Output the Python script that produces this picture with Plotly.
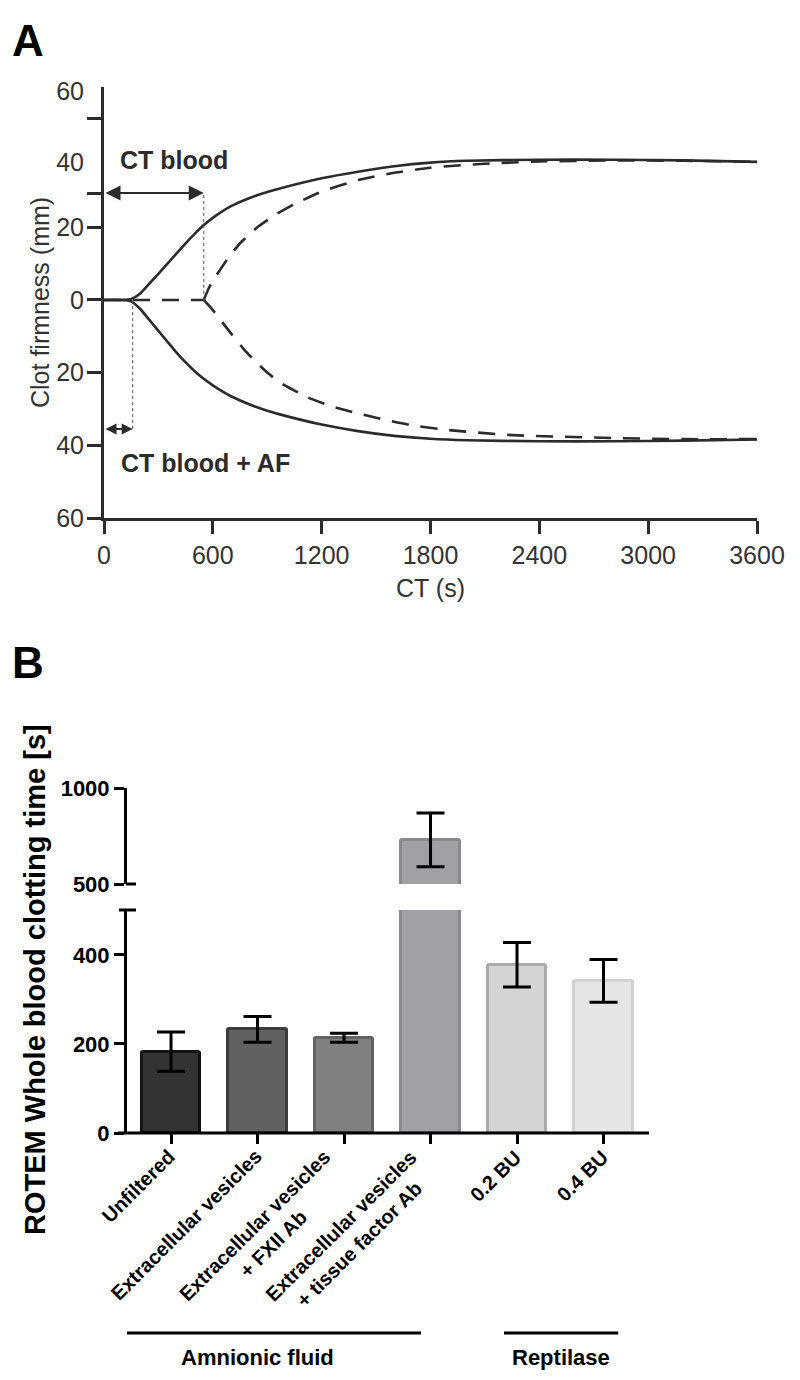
import plotly.graph_objects as go

W, H = 800, 1380

# ---------------- Panel A data ----------------
t_solid = [0, 100, 150, 200, 250, 300, 350, 400, 450, 500, 550, 600, 650, 700, 800, 900, 1000,
           1200, 1400, 1600, 1800, 2000, 2400, 2800, 3200, 3600]
upper_solid = [0, 0, 0.3, 1.8, 4.5, 7.2, 10, 12.8, 15.6, 18.2, 20.6, 22.6, 24.3, 25.8, 28.0, 29.7, 31.1,
               33.5, 35.3, 36.8, 37.8, 38.3, 38.6, 38.6, 38.4, 38.0]
lower_solid = [0, 0, -0.4, -2.5, -5.5, -8.5, -11.5, -14.5, -17.2, -19.6, -21.7, -23.5, -25.1, -26.5, -28.7, -30.5, -31.9,
               -34.3, -36.1, -37.4, -38.2, -38.6, -38.9, -38.9, -38.7, -38.4]

t_flat = [0, 550]
flat_dashed = [0, 0]
t_dash_up = [550, 580, 620, 680, 750, 850, 950, 1050, 1200, 1400, 1600, 1800, 2100, 2400, 2800, 3200, 3600]
upper_dashed = [0, 3.5, 6.8, 11.2, 15.6, 20.2, 23.6, 26.4, 29.8, 33, 35, 36.4, 37.5, 38.1, 38.4, 38.3, 38.0]
t_dash_low = [550, 600, 650, 700, 770, 840, 910, 980, 1123, 1250, 1406, 1550, 1688, 1900, 2254, 2818, 3200, 3600]
lower_dashed = [0, -2.8, -6, -9.2, -13.5, -17.2, -20.4, -23, -26.8, -29.2, -31.3, -33, -34.4, -35.8, -37.2, -38, -38.3, -38.3]

CT_BLOOD = 550
CT_BLOOD_AF = 158
ARROW_Y_BLOOD = 29.4
ARROW_Y_AF = -35.5

a_xticks = [0, 600, 1200, 1800, 2400, 3000, 3600]
a_ytick_marks = [50, 29.4, 20, 0, -20, -40, -60]
a_ylabel_pos = [57.5, 37.8, 20, 0, -20, -40, -60]
a_ylabel_text = ["60", "40", "20", "0", "20", "40", "60"]

# ---------------- Panel B data ----------------
categories = ["Unfiltered", "Extracellular vesicles", "Extracellular vesicles<br>+ FXII Ab",
              "Extracellular vesicles<br>+ tissue factor Ab", "0.2 BU", "0.4 BU"]
clot_time = [183, 233, 214, 730, 378, 342]
clot_err = [44, 29, 10, 140, 50, 48]
bar_fill = ["#333333", "#616161", "#808080", "#a1a0a5", "#d4d4d4", "#e6e6e6"]
bar_edge = ["#141414", "#3c3c3c", "#636363", "#8a8a8e", "#ababab", "#d2d2d2"]
groups = [("Amnionic fluid", -0.9, 2.89), ("Reptilase", 3.85, 5.17)]
b_low_ticks = [0, 200, 400]
b_high_ticks = [500, 1000]
BREAK_LOW, BREAK_HIGH, B_TOP = 501, 500, 1000


def px(x):
    return x / W


def py(y):
    return 1 - y / H


FONT = "Arial, Liberation Sans, sans-serif"
LC = "#2b2b2b"
TC = "#333333"

fig = go.Figure()

# Panel A traces
fig.add_trace(go.Scatter(x=t_flat, y=flat_dashed, mode="lines",
                         line=dict(color=LC, width=2.6, dash="17px,12px"),
                         xaxis="x", yaxis="y", showlegend=False, hoverinfo="skip"))
for xs, ys, dash in [(t_solid, upper_solid, None), (t_solid, lower_solid, None),
                     (t_dash_up, upper_dashed, "17px,12px"), (t_dash_low, lower_dashed, "17px,12px")]:
    fig.add_trace(go.Scatter(x=xs, y=ys, mode="lines",
                             line=dict(color=LC, width=2.6, dash=dash, shape="spline", smoothing=0.5),
                             xaxis="x", yaxis="y", showlegend=False, hoverinfo="skip"))
# invisible trace carrying the tick-label axis of panel A
fig.add_trace(go.Scatter(x=[None], y=[None], mode="lines", xaxis="x", yaxis="y5", showlegend=False))

# Panel B traces (lower segment)
cats_idx = list(range(len(categories)))
low_err = [e if v < BREAK_LOW else 0 for v, e in zip(clot_time, clot_err)]
fig.add_trace(go.Bar(x=cats_idx, y=clot_time, width=0.68,
                     marker=dict(color=bar_fill, line=dict(color=bar_edge, width=3), cornerradius=2),
                     error_y=dict(type="data", array=low_err, color="black", thickness=3, width=14,
                                  visible=True),
                     xaxis="x2", yaxis="y2", showlegend=False))
# upper segment
hi_idx = [i for i, v in enumerate(clot_time) if v > BREAK_HIGH]
fig.add_trace(go.Bar(x=hi_idx, y=[clot_time[i] for i in hi_idx], width=0.68,
                     marker=dict(color=[bar_fill[i] for i in hi_idx],
                                 line=dict(color=[bar_edge[i] for i in hi_idx], width=3), cornerradius=2),
                     error_y=dict(type="data", array=[clot_err[i] for i in hi_idx], color="black",
                                  thickness=3, width=14),
                     xaxis="x3", yaxis="y3", showlegend=False))

A_TICKFONT = dict(family=FONT, size=25, color=TC)
B_TICKFONT = dict(family=FONT, size=22, color="black", weight="bold")

layout = dict(
    width=W, height=H, margin=dict(l=0, r=0, t=0, b=0, autoexpand=False),
    paper_bgcolor="white", plot_bgcolor="rgba(0,0,0,0)",
    bargap=0,
    xaxis=dict(domain=[px(104), px(757)], range=[0, 3600], anchor="y", showline=True, automargin=False,
               showgrid=False, zeroline=False, linecolor=LC, linewidth=2.6,
               tickvals=a_xticks, ticks="outside", ticklen=13, tickwidth=2.6, tickcolor=LC,
               tickfont=A_TICKFONT),
    yaxis=dict(domain=[py(518), py(87)], range=[-60, 58.6], anchor="x", showline=True, automargin=False,
               showgrid=False, zeroline=False, linecolor=LC, linewidth=2.6,
               tickvals=a_ytick_marks, showticklabels=False, ticks="outside", ticklen=14,
               tickwidth=2.6, tickcolor=LC),
    yaxis5=dict(overlaying="y", anchor="x", side="left", range=[-60, 58.6], showline=False, showgrid=False,
                zeroline=False, automargin=False, tickvals=a_ylabel_pos, ticktext=a_ylabel_text,
                ticks="outside", ticklen=14, tickcolor="rgba(0,0,0,0)", tickfont=A_TICKFONT),
    xaxis2=dict(domain=[px(127), px(649)], range=[-0.509, 5.526], anchor="y2", showline=False,
                automargin=False, showgrid=False, zeroline=False, tickvals=cats_idx, showticklabels=False,
                ticks="outside", ticklen=10, tickwidth=3, tickcolor="black"),
    yaxis2=dict(domain=[py(1133), py(910)], range=[0, BREAK_LOW], anchor="x2", showline=True,
                automargin=False, linecolor="black", linewidth=3, showgrid=False, zeroline=False,
                tickvals=b_low_ticks, ticks="outside", ticklen=10, tickwidth=3, tickcolor="black",
                tickfont=B_TICKFONT),
    xaxis3=dict(domain=[px(127), px(649)], range=[-0.509, 5.526], anchor="y3", matches="x2",
                visible=False, automargin=False),
    yaxis3=dict(domain=[py(884), py(788)], range=[BREAK_HIGH, B_TOP], anchor="x3", showline=True,
                automargin=False, linecolor="black", linewidth=3, showgrid=False, zeroline=False,
                tickvals=b_high_ticks, ticks="outside", ticklen=10, tickwidth=3, tickcolor="black",
                tickfont=B_TICKFONT),
)
fig.update_layout(**layout)

shapes = []
# dotted guide lines
shapes.append(dict(type="line", xref="x", yref="y", x0=CT_BLOOD, x1=CT_BLOOD, y0=0, y1=ARROW_Y_BLOOD,
                   line=dict(color="#555555", width=1, dash="dot")))
shapes.append(dict(type="line", xref="x", yref="y", x0=CT_BLOOD_AF, x1=CT_BLOOD_AF, y0=0, y1=ARROW_Y_AF,
                   line=dict(color="#555555", width=1, dash="dot")))
# panel B x-axis line
shapes.append(dict(type="line", xref="paper", yref="paper", x0=px(118), x1=px(649), y0=py(1133), y1=py(1133),
                   line=dict(color="black", width=3)))
# axis break caps
shapes.append(dict(type="line", xref="paper", yref="paper", x0=px(126), x1=px(136), y0=py(884), y1=py(884),
                   line=dict(color="black", width=3)))
shapes.append(dict(type="line", xref="paper", yref="paper", x0=px(119), x1=px(136), y0=py(910), y1=py(910),
                   line=dict(color="black", width=3)))
# group lines
for name, g0, g1 in groups:
    shapes.append(dict(type="line", xref="x2", yref="paper", x0=g0, x1=g1, y0=py(1333), y1=py(1333),
                       line=dict(color="black", width=3)))
fig.update_layout(shapes=shapes)

ann = []
# arrows
for xa, ya, sz in [(CT_BLOOD, ARROW_Y_BLOOD, 1.5), (CT_BLOOD_AF, ARROW_Y_AF, 1.1)]:
    ann.append(dict(x=xa, y=ya, ax=0, ay=ya, xref="x", yref="y", axref="x", ayref="y", text="",
                    showarrow=True, arrowhead=2, arrowside="end+start", arrowsize=sz, arrowwidth=2,
                    arrowcolor=LC, standoff=0, startstandoff=0))
ann.append(dict(x=75, y=38.5, xref="x", yref="y", text="<b>CT blood</b>", showarrow=False,
                xanchor="left", yanchor="middle", font=dict(family=FONT, size=25, color=LC)))
ann.append(dict(x=80, y=-44.9, xref="x", yref="y", text="<b>CT blood + AF</b>", showarrow=False,
                xanchor="left", yanchor="middle", font=dict(family=FONT, size=25, color=LC)))
# axis titles A
ann.append(dict(x=px(40), y=py(303), xref="paper", yref="paper", text="Clot firmness (mm)", textangle=-90,
                xanchor="center", yanchor="middle",
                showarrow=False, font=dict(family=FONT, size=25, color=TC)))
ann.append(dict(x=px(430), y=py(588), xref="paper", yref="paper", text="CT (s)",
                xanchor="center", yanchor="middle",
                showarrow=False, font=dict(family=FONT, size=25, color=TC)))
# panel letters
ann.append(dict(x=px(10), y=py(14), xref="paper", yref="paper", text="<b>A</b>", showarrow=False,
                xanchor="left", yanchor="top", font=dict(family=FONT, size=44, color="black")))
ann.append(dict(x=px(10), y=py(636), xref="paper", yref="paper", text="<b>B</b>", showarrow=False,
                xanchor="left", yanchor="top", font=dict(family=FONT, size=44, color="black")))
# panel B y title
ann.append(dict(x=px(35), y=py(980), xref="paper", yref="paper",
                text="<b>ROTEM Whole blood clotting time [s]</b>", textangle=-90,
                xanchor="center", yanchor="middle",
                showarrow=False, font=dict(family=FONT, size=29, color="black")))
# rotated category labels
for i, c in enumerate(categories):
    ann.append(dict(x=i, y=py(1143), xref="x2", yref="paper", text="<b>" + c + "</b>", textangle=-45,
                    showarrow=False, xanchor="right", yanchor="top", align="center", xshift=11,
                    font=dict(family=FONT, size=20, color="black")))
# group labels
for name, g0, g1 in groups:
    ann.append(dict(x=(g0 + g1) / 2, y=py(1357), xref="x2", yref="paper", text="<b>" + name + "</b>",
                    xanchor="center", yanchor="middle",
                    showarrow=False, font=dict(family=FONT, size=22, color="black")))
fig.update_layout(annotations=ann)

fig.write_html("out.html", config={"displayModeBar": False},
               post_script="document.body.style.margin='0';document.body.style.padding='0';")
